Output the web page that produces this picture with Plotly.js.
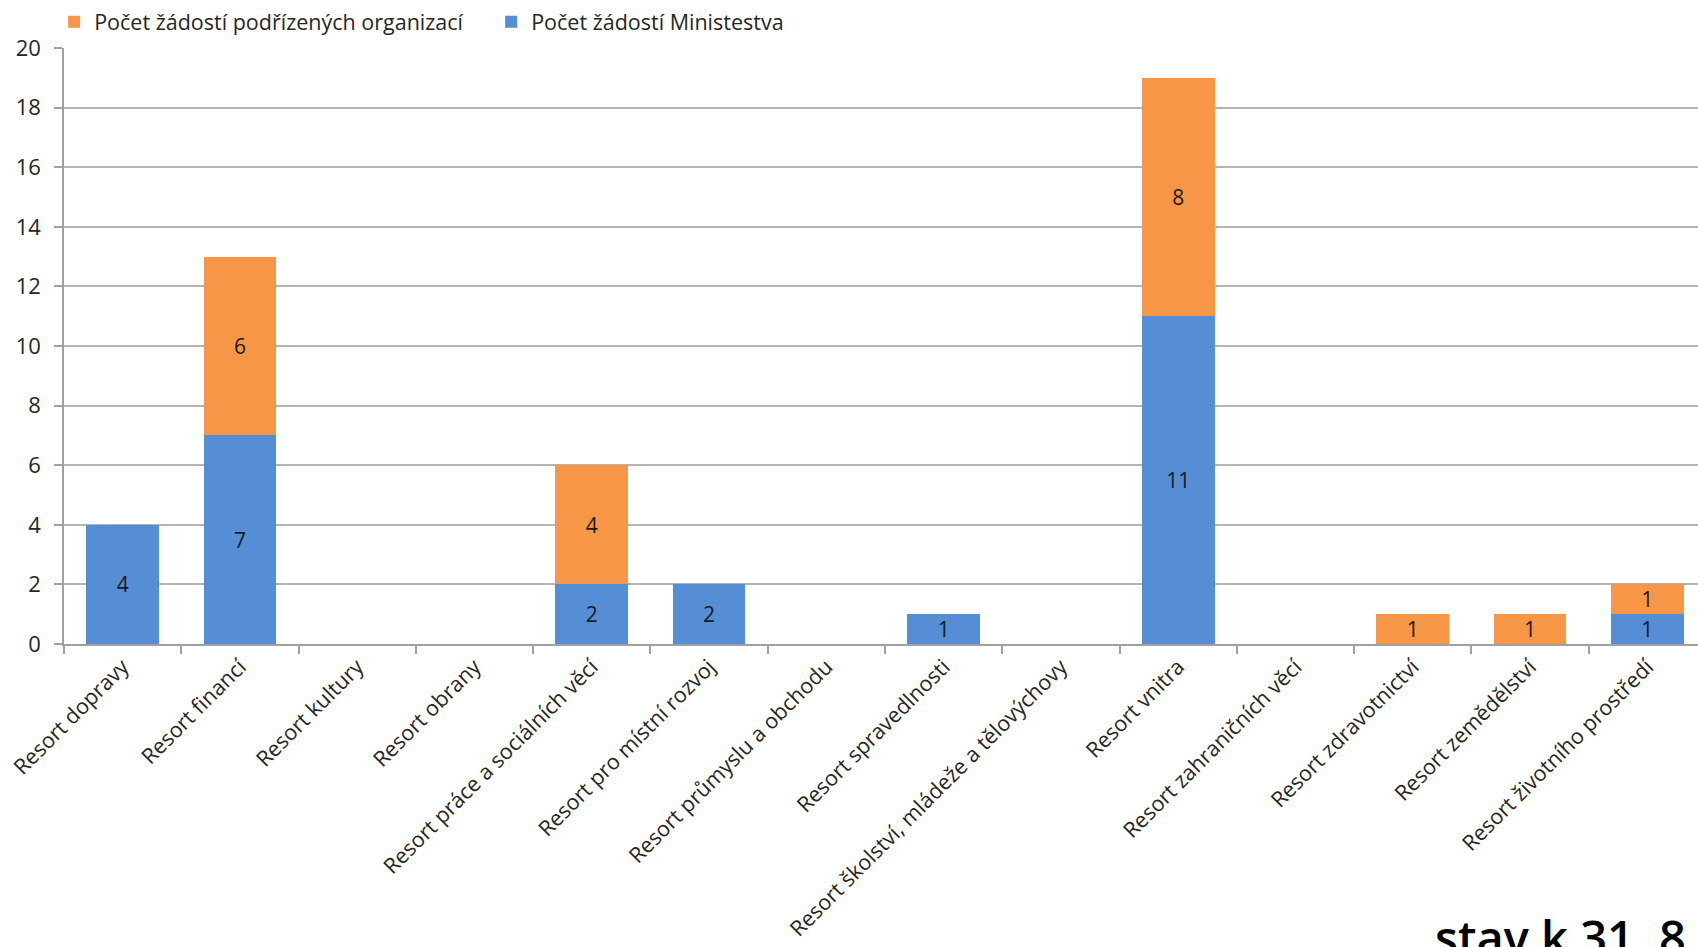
<!DOCTYPE html>
<html>
<head>
<meta charset="utf-8">
<script src="https://cdn.plot.ly/plotly-3.0.1.min.js"></script>
<style>
html,body{margin:0;padding:0;background:#fff;overflow:hidden;}
#chart{width:1710px;height:980px;}
</style>
</head>
<body>
<div id="chart"></div>
<script>
const categories = [
  "Resort dopravy",
  "Resort financí",
  "Resort kultury",
  "Resort obrany",
  "Resort práce a sociálních věcí",
  "Resort pro místní rozvoj",
  "Resort průmyslu a obchodu",
  "Resort spravedlnosti",
  "Resort školství, mládeže a tělovýchovy",
  "Resort vnitra",
  "Resort zahraničních věcí",
  "Resort zdravotnictví",
  "Resort zemědělství",
  "Resort životního prostředí"
];
const ministerstvo = [4, 7, 0, 0, 2, 2, 0, 1, 0, 11, 0, 0, 0, 1];
const podrizene   = [0, 6, 0, 0, 4, 0, 0, 0, 0, 8, 0, 1, 1, 1];
const seriesNames = ["Počet žádostí Ministestva", "Počet žádostí podřízených organizací"];
const yTicks = [0, 2, 4, 6, 8, 10, 12, 14, 16, 18, 20];
const footnote = "stav k 31. 8";

const FONT = "Open Sans, Noto Sans, sans-serif";
const lbl = arr => arr.map(v => v === 0 ? "" : String(v));

const traces = [
  {
    type: "bar", name: seriesNames[0], x: categories, y: ministerstvo,
    text: lbl(ministerstvo), texttemplate: "%{text}", textposition: "inside",
    insidetextanchor: "middle", textangle: 0,
    textfont: {family: FONT, size: 21, color: "#1a1a1a"},
    marker: {color: "#558ED5"}, hoverinfo: "x+y"
  },
  {
    type: "bar", name: seriesNames[1], x: categories, y: podrizene,
    text: lbl(podrizene), texttemplate: "%{text}", textposition: "inside",
    insidetextanchor: "middle", textangle: 0,
    textfont: {family: FONT, size: 21, color: "#1a1a1a"},
    marker: {color: "#F79646"}, hoverinfo: "x+y"
  }
];

const layout = {
  width: 1710, height: 980,
  margin: {l: 64, r: 4, t: 48, b: 336, autoexpand: false},
  paper_bgcolor: "#ffffff", plot_bgcolor: "#ffffff",
  barmode: "stack", bargap: 0.38,
  uniformtext: {mode: "show", minsize: 21},
  font: {family: FONT, color: "#262626", size: 21},
  showlegend: true,
  legend: {
    orientation: "h", traceorder: "reversed",
    x: -0.006, xanchor: "left", y: 1.044, yanchor: "middle",
    font: {family: FONT, size: 21.5, color: "#262626"},
    entrywidth: 392, entrywidthmode: "pixels",
    bgcolor: "rgba(0,0,0,0)"
  },
  xaxis: {
    type: "category", tickangle: -45, tickson: "boundaries",
    ticks: "outside", ticklen: 8, tickcolor: "#a0a0a0", tickwidth: 1.5,
    showline: true, linecolor: "#a0a0a0", linewidth: 1.5,
    showgrid: false, tickfont: {family: FONT, size: 21.5, color: "#262626"},
    automargin: false
  },
  yaxis: {
    range: [0, 20], tickvals: yTicks, ticktext: yTicks.map(String),
    ticks: "outside", ticklen: 8, tickcolor: "#a0a0a0", tickwidth: 1.5,
    ticklabelstandoff: 9,
    showline: true, linecolor: "#a0a0a0", linewidth: 1.5,
    showgrid: true, gridcolor: "#b4b4b4", gridwidth: 1.5,
    zeroline: false, tickfont: {family: FONT, size: 22, color: "#262626"},
    automargin: false
  },
  annotations: [{
    text: footnote, xref: "paper", yref: "paper",
    x: (1433 - 64) / 1642, y: (644 - 903) / 596,
    xanchor: "left", yanchor: "top", showarrow: false,
    font: {family: FONT, size: 47, color: "#000000", weight: 600}
  }]
};

Plotly.newPlot("chart", traces, layout, {displayModeBar: false, responsive: false});
</script>
</body>
</html>
